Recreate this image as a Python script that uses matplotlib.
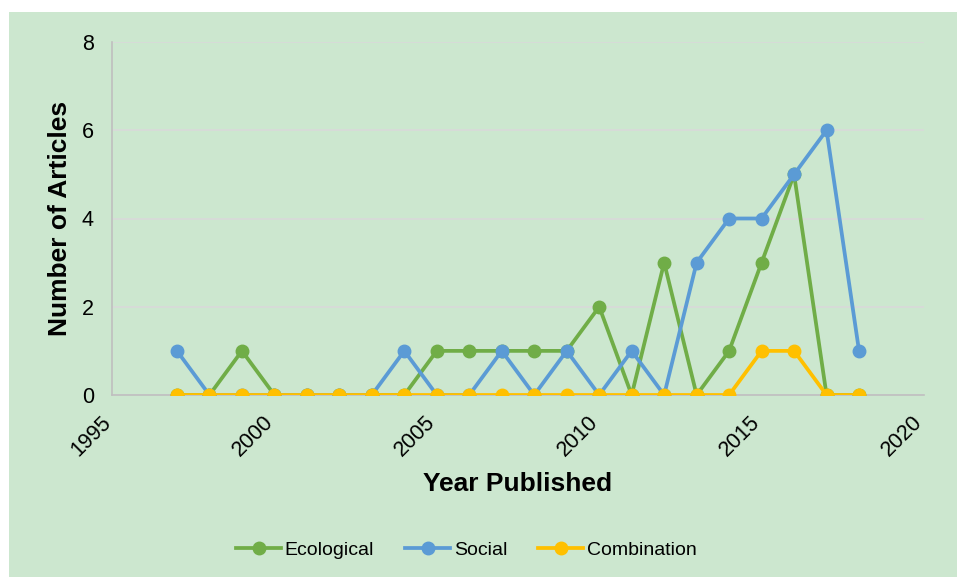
import matplotlib.pyplot as plt
from matplotlib.patches import Rectangle
from matplotlib.transforms import ScaledTranslation

plt.rcParams['font.family'] = ['Liberation Sans', 'DejaVu Sans']

years = list(range(1997, 2019))
ecological = [0, 0, 1, 0, 0, 0, 0, 0, 1, 1, 1, 1, 1, 2, 0, 3, 0, 1, 3, 5, 0, 0]
social = [1, 0, 0, 0, 0, 0, 0, 1, 0, 0, 1, 0, 1, 0, 1, 0, 3, 4, 4, 5, 6, 1]
combination = [0, 0, 0, 0, 0, 0, 0, 0, 0, 0, 0, 0, 0, 0, 0, 0, 0, 0, 1, 1, 0, 0]

W, H = 957, 577
fig = plt.figure(figsize=(W / 100, H / 100), dpi=100)
fig.patch.set_facecolor('white')
# green chart area (leaves a thin white strip top/left)
fig.patches.append(Rectangle((9 / W, 0), 1 - 9 / W, 1 - 12 / H, transform=fig.transFigure,
                             facecolor='#cce7cf', edgecolor='none', zorder=-5))

ax = fig.add_axes([112 / W, 1 - 395 / H, (924 - 112) / W, (395 - 42) / H])
ax.set_facecolor('none')
ax.set_zorder(2)

ax.plot(years, ecological, color='#70ad47', lw=2.7, marker='o', ms=9, label='Ecological', zorder=3)
ax.plot(years, social, color='#5b9bd5', lw=2.7, marker='o', ms=9, label='Social', zorder=4)
ax.plot(years, combination, color='#ffc000', lw=2.7, marker='o', ms=9, label='Combination', zorder=5)

ax.set_xlim(1995, 2020)
ax.set_ylim(0, 8)
ax.set_xticks(range(1995, 2021, 5))
ax.set_yticks(range(0, 9, 2))
ax.grid(axis='y', color='#d9d9d9', lw=1.2)
ax.set_axisbelow(True)
for s in ['top', 'right']:
    ax.spines[s].set_visible(False)
ax.spines['left'].set_color('#bfbfbf')
ax.spines['bottom'].set_color('#bfbfbf')
ax.spines['left'].set_linewidth(1.2)
ax.spines['bottom'].set_linewidth(1.2)
ax.tick_params(length=0, labelsize=15.5)
ax.tick_params(axis='x', pad=12)
ax.tick_params(axis='y', pad=13)
shift = ScaledTranslation(3 / 100, 0, fig.dpi_scale_trans)
for lab in ax.get_xticklabels():
    lab.set_rotation(45)
    lab.set_ha('right')
    lab.set_va('top')
    lab.set_transform(lab.get_transform() + shift)

ax.set_xlabel('Year Published', fontsize=19, fontweight='bold', labelpad=8)
ax.set_ylabel('Number of Articles', fontsize=19, fontweight='bold', labelpad=7)

leg = fig.legend(loc='center', bbox_to_anchor=(0.5 - 12 / W, 1 - 550 / H), ncol=3, frameon=False,
                 fontsize=14, handlelength=2.3, columnspacing=1.6, handletextpad=0.2)
leg.set_zorder(3)

fig.savefig('out.png', dpi=100, facecolor=fig.get_facecolor())
